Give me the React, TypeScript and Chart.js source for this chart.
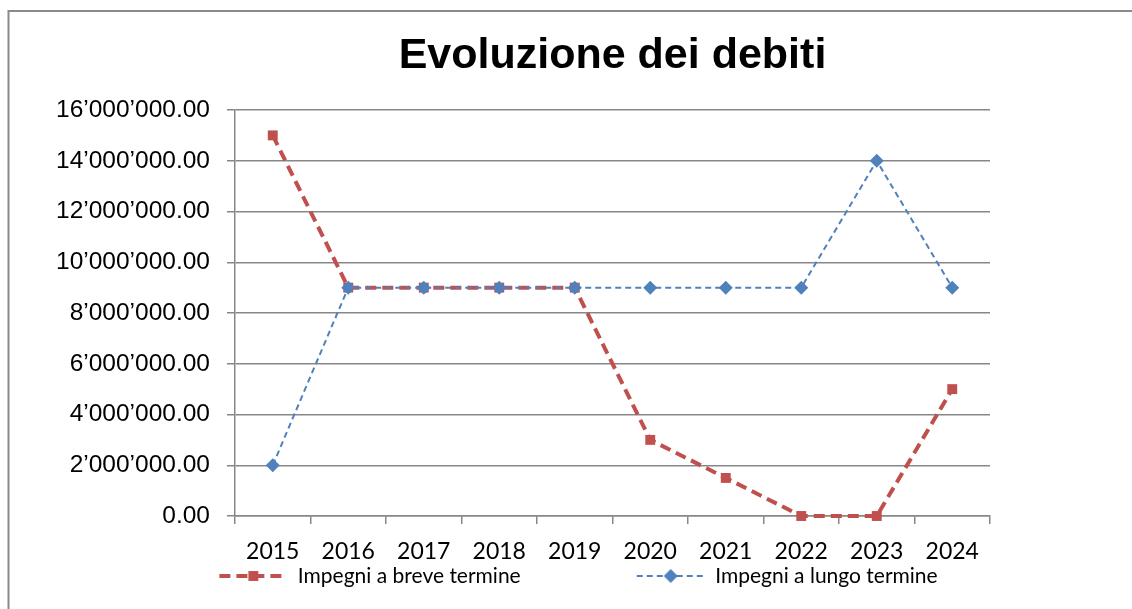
import React, { useEffect, useRef } from 'react';
import { Chart, registerables } from 'chart.js';

Chart.register(...registerables);

const chartTitle = 'Evoluzione dei debiti';
const years = ['2015', '2016', '2017', '2018', '2019', '2020', '2021', '2022', '2023', '2024'];
const seriesNames = ['Impegni a breve termine', 'Impegni a lungo termine'];
const breveTermine = [15000000, 9000000, 9000000, 9000000, 9000000, 3000000, 1500000, 0, 0, 5000000];
const lungoTermine = [2000000, 9000000, 9000000, 9000000, 9000000, 9000000, 9000000, 9000000, 14000000, 9000000];
const yMin = 0;
const yMax = 16000000;
const yStep = 2000000;

const RED = '#C0504D';
const BLUE = '#4F81BD';
const GRID = '#878787';

const PAD_L = 56;
const LEG_PAD = 111;
const LEG_SYM = 68;

const fmt = (v: number) => {
  const [i, d] = v.toFixed(2).split('.');
  return i.replace(/\B(?=(\d{3})+(?!\d))/g, '\u2019') + '.' + d;
};

function makeSymbol(color: string, lw: number, dash: number[], style: string, r: number) {
  const c = document.createElement('canvas');
  c.width = LEG_PAD + LEG_SYM;
  c.height = 20;
  const ctx = c.getContext('2d')!;
  ctx.strokeStyle = color;
  ctx.lineWidth = lw;
  ctx.setLineDash(dash);
  ctx.beginPath();
  ctx.moveTo(LEG_PAD, 10);
  ctx.lineTo(LEG_PAD + LEG_SYM, 10);
  ctx.stroke();
  ctx.setLineDash([]);
  ctx.fillStyle = color;
  const cx = LEG_PAD + LEG_SYM / 2;
  ctx.beginPath();
  if (style === 'rect') {
    const h = r * Math.SQRT1_2;
    ctx.rect(cx - h, 10 - h, 2 * h, 2 * h);
  } else {
    ctx.moveTo(cx - r, 10);
    ctx.lineTo(cx, 10 - r);
    ctx.lineTo(cx + r, 10);
    ctx.lineTo(cx, 10 + r);
    ctx.closePath();
  }
  ctx.fill();
  return c;
}

const framePlugin = {
  id: 'frame',
  beforeDraw(chart: any) {
    const ctx = chart.ctx;
    ctx.save();
    ctx.strokeStyle = '#8a8a8a';
    ctx.lineWidth = 2;
    ctx.beginPath();
    ctx.moveTo(8.5, chart.height);
    ctx.lineTo(8.5, 11);
    ctx.lineTo(chart.width, 11);
    ctx.stroke();
    ctx.restore();
  },
};

export default function App() {
  const ref = useRef<HTMLCanvasElement>(null);
  useEffect(() => {
    const symbols = [
      makeSymbol(RED, 4, [11, 6], 'rect', 7),
      makeSymbol(BLUE, 2, [6, 4], 'rectRot', 7),
    ];
    const chart = new Chart(ref.current!, {
      type: 'line',
      data: {
        labels: years,
        datasets: [
          {
            label: seriesNames[0],
            data: breveTermine,
            borderColor: RED,
            backgroundColor: RED,
            borderWidth: 4,
            borderDash: [11, 6],
            pointStyle: 'rect',
            pointRadius: 7,
            pointBorderWidth: 0,
            tension: 0,
            fill: false,
            clip: false,
            order: 1,
          },
          {
            label: seriesNames[1],
            data: lungoTermine,
            borderColor: BLUE,
            backgroundColor: BLUE,
            borderWidth: 2,
            borderDash: [6, 4],
            pointStyle: 'rectRot',
            pointRadius: 7,
            pointBorderWidth: 0,
            tension: 0,
            fill: false,
            clip: false,
            order: 0,
          },
        ],
      },
      options: {
        responsive: false,
        animation: false,
        layout: { padding: { left: PAD_L, right: 142, top: 0, bottom: 12.5 } },
        scales: {
          x: {
            offset: true,
            grid: { offset: true, drawOnChartArea: false, drawTicks: true, tickLength: 8, color: GRID, lineWidth: 1.5 },
            border: { display: true, color: GRID, width: 1.5 },
            ticks: { color: '#000', padding: 14, font: { family: 'Lato', size: 23 }, maxRotation: 0 },
            afterFit: (s: any) => { s.height = 44.5; },
          },
          y: {
            min: yMin,
            max: yMax,
            grid: { color: GRID, lineWidth: 1.5, tickLength: 8, drawTicks: true },
            border: { display: true, color: GRID, width: 1.5 },
            ticks: {
              stepSize: yStep,
              color: '#000',
              padding: 17,
              font: { family: 'Liberation Sans', size: 24.5 },
              callback: (v: any) => fmt(Number(v)),
            },
            afterFit: (s: any) => { s.width = 235 - PAD_L; },
          },
        },
        plugins: {
          title: {
            display: true,
            text: chartTitle,
            fullSize: false,
            color: '#000',
            font: { family: 'Liberation Sans', size: 43, weight: 'bold' },
            padding: { top: 30.2, bottom: 28.2 },
          },
          legend: {
            display: true,
            position: 'bottom',
            labels: {
              usePointStyle: true,
              pointStyleWidth: LEG_PAD + LEG_SYM,
              padding: 5,
              color: '#000',
              font: { family: 'Lato', size: 21 },
              generateLabels: (c: any) => {
                const items = Chart.defaults.plugins.legend.labels.generateLabels(c);
                items.sort((a: any, b: any) => a.datasetIndex - b.datasetIndex);
                items.forEach((it: any) => { it.pointStyle = symbols[it.datasetIndex]; it.lineWidth = 0; });
                return items;
              },
            },
          },
          tooltip: { enabled: false },
        },
      },
      plugins: [framePlugin],
    });
    return () => chart.destroy();
  }, []);
  return (
    <div style={{ position: 'absolute', left: 0, top: 0, width: 1132, height: 609, background: '#fff' }}>
      <canvas ref={ref} width={1132} height={609} />
    </div>
  );
}
